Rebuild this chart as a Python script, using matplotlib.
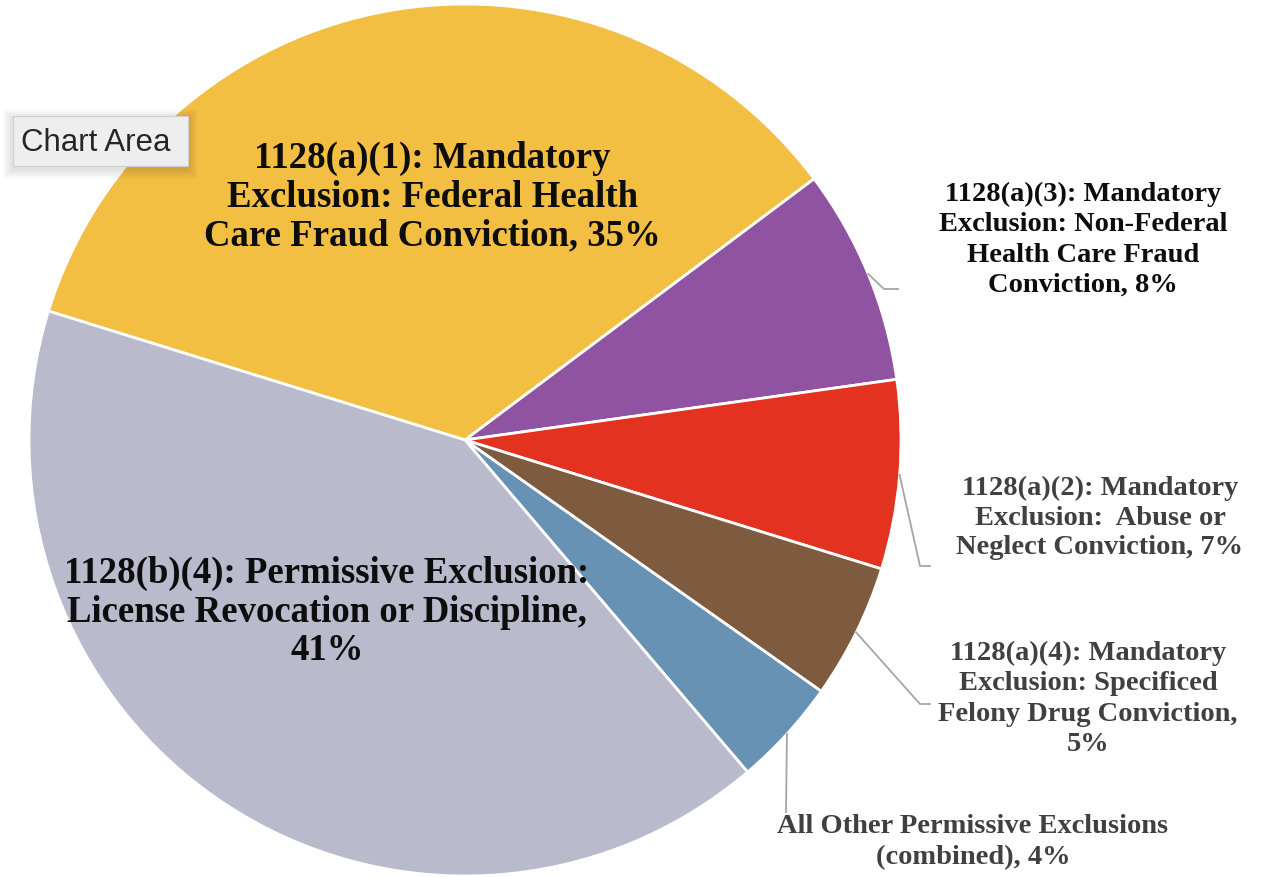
import numpy as np
import matplotlib.pyplot as plt
from matplotlib.patches import Rectangle

# exclusion shares, in drawing order (clockwise from the upper-left)
shares = [35, 8, 7, 5, 4, 41]
colors = ['#F2BF43', '#8F53A1', '#E3321F', '#7E5B3E', '#6792B4', '#B9BACC']
label_fmt = [
    "1128(a)(1): Mandatory\nExclusion: Federal Health\nCare Fraud Conviction, {}%",
    "1128(a)(3): Mandatory\nExclusion: Non-Federal\nHealth Care Fraud\nConviction, {}%",
    "1128(a)(2): Mandatory\nExclusion:  Abuse or\nNeglect Conviction, {}%",
    "1128(a)(4): Mandatory\nExclusion: Specificed\nFelony Drug Conviction,\n{}%",
    "All Other Permissive Exclusions\n(combined), {}%",
    "1128(b)(4): Permissive Exclusion:\nLicense Revocation or Discipline,\n{}%",
]

W, H = 1261, 878
def Y(y):
    # flip from top-down pixel rows
    return H - y

# label placement: centre point, size, colour, leader elbow points
lab_xy = [(432, 197), (1083, 240), (1100, 518), (1088, 699), (973, 842), (327, 612)]
lab_size = [26.5, 20.5, 20.5, 20.5, 20.5, 26.5]
lab_col = ['#0D0D0D', '#0D0D0D', '#404040', '#404040', '#404040', '#0D0D0D']
lab_ls = [1.13, 1.28, 1.24, 1.28, 1.28, 1.13]
leaders = [None,
           [(884, 290), (898, 290)],
           [(920, 567), (930, 567)],
           [(920, 705), (930, 705)],
           [(786, 813)],
           None]

fig = plt.figure(figsize=(W / 100, H / 100), dpi=100)
ax = fig.add_axes([0, 0, 1, 1])

cx, cy, r = 465, Y(441), 436
wedges, _ = ax.pie(shares, colors=colors, startangle=162.8, counterclock=False,
                   center=(cx, cy), radius=r,
                   wedgeprops=dict(edgecolor='white', linewidth=2))
ax.set_xlim(0, W)
ax.set_ylim(0, H)
ax.set_aspect('equal')
ax.axis('off')

for i, w in enumerate(wedges):
    if leaders[i] is not None:
        mid = np.deg2rad((w.theta1 + w.theta2) / 2)
        xs = [cx + r * np.cos(mid)] + [p[0] for p in leaders[i]]
        ys = [cy + r * np.sin(mid)] + [Y(p[1]) for p in leaders[i]]
        ax.plot(xs, ys, color='#A5A5A5', lw=1.3, zorder=3)
    x, y = lab_xy[i]
    ax.text(x, Y(y), label_fmt[i].format(shares[i]), ha='center', va='center',
            fontsize=lab_size[i], fontweight='bold', family='Liberation Serif',
            color=lab_col[i], linespacing=lab_ls[i], zorder=4)

# "Chart Area" hover tag with a soft drop shadow
for k in range(10, 0, -1):
    ax.add_patch(Rectangle((13 - k, Y(167) - k - 3), 175 + 2 * k, 50 + 2 * k,
                           facecolor='black', edgecolor='none', alpha=0.012, zorder=5))
ax.add_patch(Rectangle((13, Y(167)), 175, 50, facecolor='#EEEEEE',
                       edgecolor='#CFCFCF', lw=0.8, zorder=6))
ax.text(21, Y(143), 'Chart Area', ha='left', va='center', fontsize=22.5,
        family='Liberation Sans', color='#262626', zorder=7)

fig.savefig('out.png', dpi=100, facecolor='white')
